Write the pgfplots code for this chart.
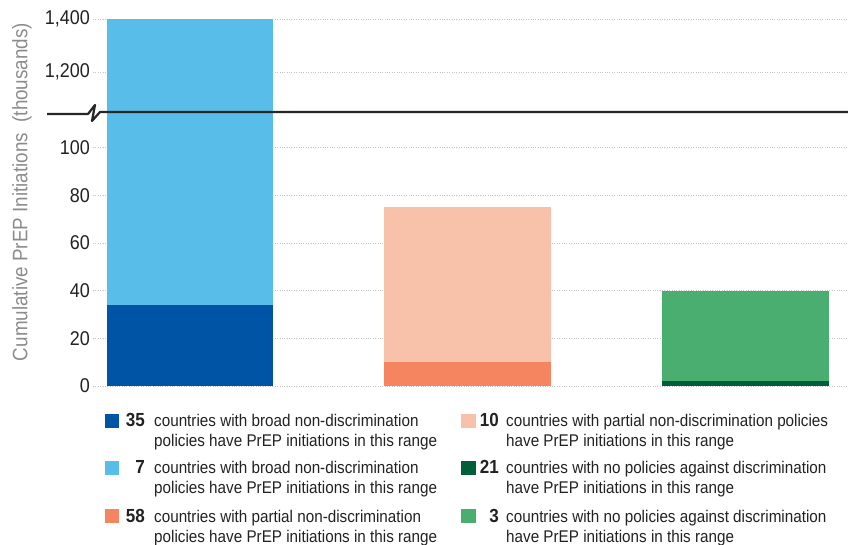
\documentclass[border=0pt]{standalone}
\usepackage{fontspec}
\setmainfont{Liberation Sans}[FakeStretch=0.9]
\usepackage{pgfplots}
\pgfplotsset{compat=1.18}

\definecolor{dblue}{RGB}{0,84,166}
\definecolor{lblue}{RGB}{88,189,232}
\definecolor{dsalmon}{RGB}{245,133,97}
\definecolor{lsalmon}{RGB}{247,194,169}
\definecolor{dgreen}{RGB}{0,94,58}
\definecolor{lgreen}{RGB}{74,174,113}
\definecolor{tickgray}{RGB}{34,34,34}
\definecolor{labelgray}{RGB}{140,140,140}
\definecolor{gridgray}{RGB}{195,195,195}

\pgfplotsset{brk/.style={
    scale only axis, width=755bp,
    xmin=-0.35, xmax=2.37,
    xtick=\empty,
    axis line style={draw=none},
    major tick length=0pt,
    ymajorgrids, grid style={gridgray, dotted, line width=0.8bp},
    yticklabel style={font=\fontsize{20}{20}\selectfont, text=tickgray, inner sep=0pt, xshift=-3bp},
  },
  seg/.style={ybar, bar width=0.6, bar shift=0pt, draw=none, fill=#1},
}

\begin{document}
\begin{tikzpicture}
\path[use as bounding box] (0,0) rectangle (848bp,545bp);

% lower part of the broken axis
\begin{axis}[brk, at={(93bp,159bp)}, anchor=south west, height=274bp,
    ymin=0, ymax=115, ytick={0,20,40,60,80,100},
    yticklabels={0,20,40,60,80,100}]
\addplot[seg=lblue] coordinates {(0,1400)};
\addplot[seg=dblue] coordinates {(0,34)};
\addplot[seg=lsalmon] coordinates {(1,75)};
\addplot[seg=dsalmon] coordinates {(1,10)};
\addplot[seg=lgreen] coordinates {(2,40)};
\addplot[seg=dgreen] coordinates {(2,2)};
\end{axis}

% upper part of the broken axis
\begin{axis}[brk, at={(93bp,433bp)}, anchor=south west, height=93bp,
    ymin=1049, ymax=1400, ytick={1200,1400},
    yticklabels={{1,200},{1,400}}]
\addplot[seg=lblue] coordinates {(0,1400)};
\end{axis}

% break line
\draw[line width=2.2bp, black!85, line join=round]
  (47bp,431bp) -- (88bp,431bp) -- (95bp,440bp) -- (92bp,424bp) -- (100bp,433bp) -- (848bp,433bp);

% y label
\node[rotate=90, text=labelgray, font=\fontsize{21}{21}\selectfont] at (22bp,353bp)
  {Cumulative PrEP Initiations\ \ (thousands)};

% legend
\tikzset{lnum/.style={anchor=base east, font=\fontsize{19}{19}\selectfont\bfseries, text=tickgray, inner sep=0pt},
         ltxt/.style={anchor=base west, font=\fontsize{17}{17}\selectfont, text=tickgray, inner sep=0pt}}
% column 1
\fill[dblue] (105bp,117bp) rectangle ++(14bp,14bp);
\node[lnum] at (145bp,118bp) {35};
\node[ltxt] at (154bp,118bp) {countries with broad non-discrimination};
\node[ltxt] at (154bp,98bp) {policies have PrEP initiations in this range};
\fill[lblue] (105bp,70bp) rectangle ++(14bp,14bp);
\node[lnum] at (145bp,71bp) {7};
\node[ltxt] at (154bp,71bp) {countries with broad non-discrimination};
\node[ltxt] at (154bp,51bp) {policies have PrEP initiations in this range};
\fill[dsalmon] (105bp,22bp) rectangle ++(14bp,14bp);
\node[lnum] at (145bp,23bp) {58};
\node[ltxt] at (154bp,23bp) {countries with partial non-discrimination};
\node[ltxt] at (154bp,3bp) {policies have PrEP initiations in this range};
% column 2
\fill[lsalmon] (461bp,117bp) rectangle ++(15bp,14bp);
\node[lnum] at (499bp,118bp) {10};
\node[ltxt] at (506bp,118bp) {countries with partial non-discrimination policies};
\node[ltxt] at (506bp,98bp) {have PrEP initiations in this range};
\fill[dgreen] (461bp,70bp) rectangle ++(15bp,14bp);
\node[lnum] at (499bp,71bp) {21};
\node[ltxt] at (506bp,71bp) {countries with no policies against discrimination};
\node[ltxt] at (506bp,51bp) {have PrEP initiations in this range};
\fill[lgreen] (461bp,22bp) rectangle ++(15bp,14bp);
\node[lnum] at (499bp,23bp) {3};
\node[ltxt] at (506bp,23bp) {countries with no policies against discrimination};
\node[ltxt] at (506bp,3bp) {have PrEP initiations in this range};
\end{tikzpicture}
\end{document}
